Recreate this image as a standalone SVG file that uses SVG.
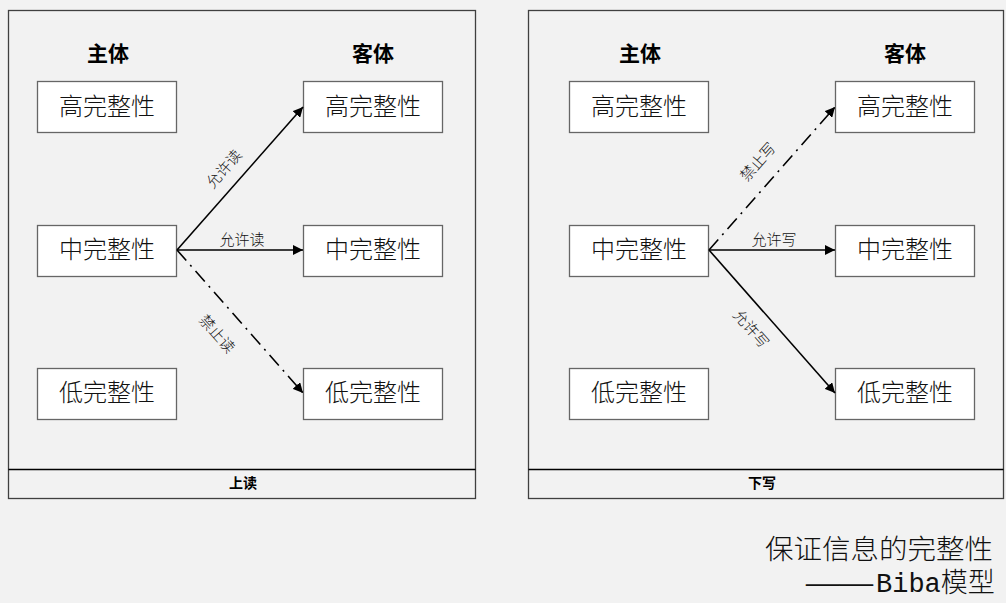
<svg xmlns="http://www.w3.org/2000/svg" width="1006" height="603" viewBox="0 0 1006 603">
<defs>
<marker id="ah" viewBox="0 0 10 10" refX="10" refY="5" markerWidth="10" markerHeight="10" markerUnits="userSpaceOnUse" orient="auto"><path d="M0,0 L10,5 L0,10 z" fill="#000"/></marker>
<style>
.panel{fill:#f2f2f2;stroke:#404040;stroke-width:1.3}
.foot{fill:none;stroke:#000;stroke-width:1.3}
.box{fill:#fff;stroke:#666;stroke-width:1.3}
.bt{font-family:"Noto Sans CJK SC",sans-serif;font-size:24px;font-weight:300;fill:#111;text-anchor:middle}
.hd{font-family:"Noto Sans CJK SC",sans-serif;font-size:21px;font-weight:bold;fill:#000;text-anchor:middle}
.ft{font-family:"Noto Sans CJK SC",sans-serif;font-size:14px;font-weight:bold;fill:#000;text-anchor:middle}
.lb{font-family:"Noto Sans CJK SC",sans-serif;font-size:15px;font-weight:300;fill:#111;text-anchor:middle;dominant-baseline:central}
.ln{stroke:#000;stroke-width:1.6;fill:none}
.dd{stroke-dasharray:14 6 2 6}
.cap{font-family:"Liberation Mono","Noto Sans CJK SC",monospace;font-size:27px;font-weight:300;fill:#111}
</style>
</defs>
<rect width="1006" height="603" fill="#f2f2f2"/>
<g id="panel-left">
<rect class="panel" x="8.5" y="10.5" width="467" height="488"/>
<line class="foot" x1="8.5" y1="469.5" x2="475.5" y2="469.5"/>
<text class="ft" x="243" y="488">上读</text>
<text class="hd" x="108" y="61">主体</text>
<text class="hd" x="373" y="61">客体</text>
</g>
<g id="panel-right">
<rect class="panel" x="528.5" y="10.5" width="475" height="488"/>
<line class="foot" x1="528.5" y1="469.5" x2="1003.5" y2="469.5"/>
<text class="ft" x="762" y="488">下写</text>
<text class="hd" x="640" y="61">主体</text>
<text class="hd" x="905" y="61">客体</text>
</g>
<g id="L-s-high"><rect class="box" x="37.5" y="81.5" width="139" height="51"/><text class="bt" x="107" y="115">高完整性</text></g>
<g id="L-s-mid"><rect class="box" x="37.5" y="225.5" width="139" height="51"/><text class="bt" x="107" y="258">中完整性</text></g>
<g id="L-s-low"><rect class="box" x="37.5" y="368.5" width="139" height="51"/><text class="bt" x="107" y="401">低完整性</text></g>
<g id="L-o-high"><rect class="box" x="303.5" y="81.5" width="139" height="51"/><text class="bt" x="373" y="115">高完整性</text></g>
<g id="L-o-mid"><rect class="box" x="303.5" y="225.5" width="139" height="51"/><text class="bt" x="373" y="258">中完整性</text></g>
<g id="L-o-low"><rect class="box" x="303.5" y="368.5" width="139" height="51"/><text class="bt" x="373" y="401">低完整性</text></g>
<g id="R-s-high"><rect class="box" x="569.5" y="81.5" width="139" height="51"/><text class="bt" x="639" y="115">高完整性</text></g>
<g id="R-s-mid"><rect class="box" x="569.5" y="225.5" width="139" height="51"/><text class="bt" x="639" y="258">中完整性</text></g>
<g id="R-s-low"><rect class="box" x="569.5" y="368.5" width="139" height="51"/><text class="bt" x="639" y="401">低完整性</text></g>
<g id="R-o-high"><rect class="box" x="835.5" y="81.5" width="139" height="51"/><text class="bt" x="905" y="115">高完整性</text></g>
<g id="R-o-mid"><rect class="box" x="835.5" y="225.5" width="139" height="51"/><text class="bt" x="905" y="258">中完整性</text></g>
<g id="R-o-low"><rect class="box" x="835.5" y="368.5" width="139" height="51"/><text class="bt" x="905" y="401">低完整性</text></g>
<g id="connectors">
<line class="ln" x1="177" y1="250" x2="303" y2="107" marker-end="url(#ah)"/>
<line class="ln" x1="177" y1="250" x2="303" y2="250" marker-end="url(#ah)"/>
<line class="ln dd" x1="177" y1="250" x2="303" y2="393" marker-end="url(#ah)"/>
<line class="ln dd" x1="709" y1="250" x2="835" y2="107" marker-end="url(#ah)"/>
<line class="ln" x1="709" y1="250" x2="835" y2="250" marker-end="url(#ah)"/>
<line class="ln" x1="709" y1="250" x2="835" y2="393" marker-end="url(#ah)"/>
<text class="lb" transform="translate(223,168) rotate(-48.6)">允许读</text>
<text class="lb" x="242" y="238">允许读</text>
<text class="lb" transform="translate(218,333) rotate(48.6)">禁止读</text>
<text class="lb" transform="translate(757,161) rotate(-48.6)">禁止写</text>
<text class="lb" x="774" y="238">允许写</text>
<text class="lb" transform="translate(752,328) rotate(48.6)">允许写</text>
</g>
<g id="caption">
<text class="cap" x="993" y="559" text-anchor="end" textLength="228" lengthAdjust="spacingAndGlyphs">保证信息的完整性</text>
<text class="cap" x="806" y="592"><tspan textLength="67" lengthAdjust="spacingAndGlyphs">——</tspan><tspan x="876">Biba模型</tspan></text>
</g>
</svg>
